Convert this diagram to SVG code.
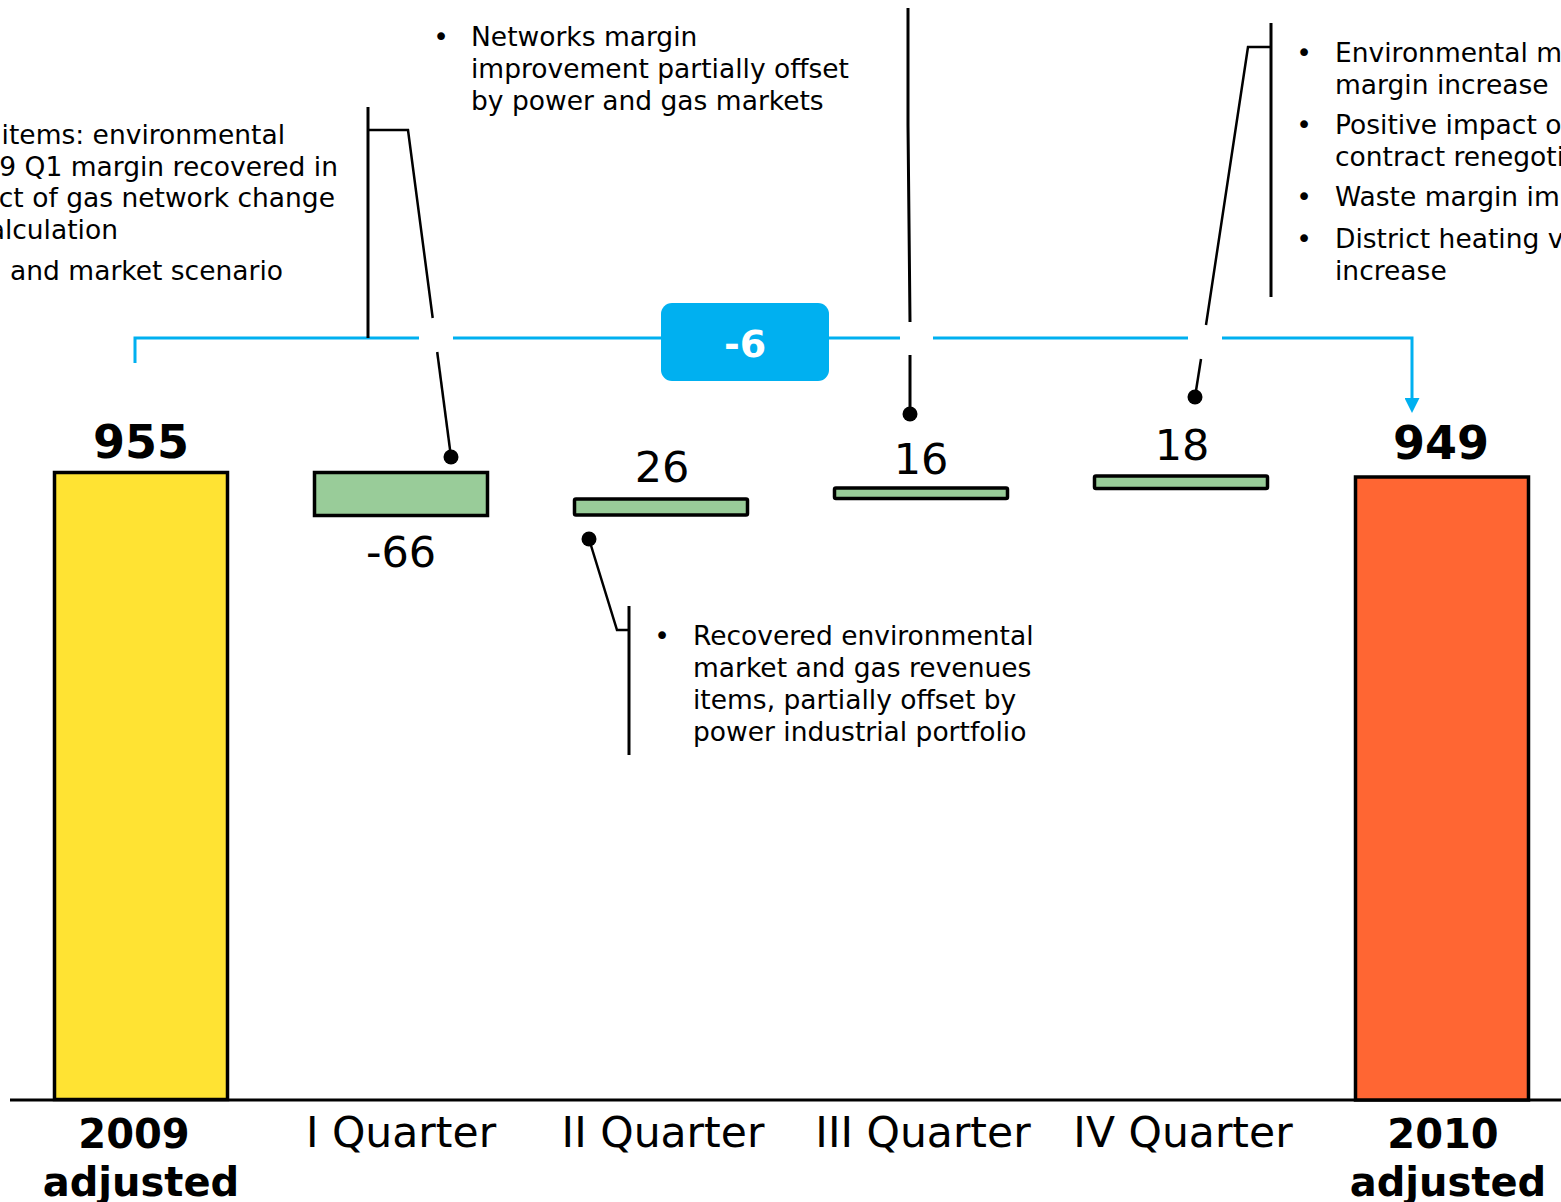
<svg xmlns="http://www.w3.org/2000/svg" width="1561" height="1202" viewBox="0 0 1561 1202">
<style>
  .t { font-family: "DejaVu Sans", Verdana, sans-serif; font-size: 26.5px; fill: #000; }
  .e { text-anchor: end; }
  .v { font-family: "DejaVu Sans", Verdana, sans-serif; font-size: 43px; fill: #000; text-anchor: middle; }
  .vb { font-family: "DejaVu Sans", Verdana, sans-serif; font-size: 46px; font-weight: bold; fill: #000; text-anchor: middle; }
  .q { font-family: "DejaVu Sans", Verdana, sans-serif; font-size: 42.5px; fill: #000; text-anchor: middle; }
  .qb { font-family: "DejaVu Sans", Verdana, sans-serif; font-size: 40px; font-weight: bold; fill: #000; text-anchor: middle; }
  .bar { stroke: #000; stroke-width: 3.5; }
  .green { fill: #99CC99; }
  .blk { fill: none; stroke: #000; stroke-width: 2.5; }
  .brk { fill: none; stroke: #000; stroke-width: 3; }
  .blue { fill: none; stroke: #00B0F0; stroke-width: 3; }
  .bul { text-anchor: middle; }
</style>
<defs>
  <marker id="arr" markerUnits="userSpaceOnUse" viewBox="0 0 15 15" markerWidth="15" markerHeight="15" refX="0" refY="7.5" orient="auto">
    <path d="M0,0 L15,7.5 L0,15 z" fill="#00B0F0"/>
  </marker>
</defs>
<rect x="0" y="0" width="1561" height="1202" fill="#fff"/>

<g id="axis">
  <line x1="10" y1="1100" x2="1561" y2="1100" stroke="#000" stroke-width="3"/>
</g>

<g id="bar-2009">
  <rect class="bar" x="54.5" y="472.5" width="173" height="627" fill="#FFE333"/>
  <text class="vb" x="141" y="458">955</text>
  <text class="qb" x="134" y="1148">2009</text>
  <text class="qb" x="141" y="1196">adjusted</text>
</g>
<g id="bar-q1">
  <rect class="bar green" x="314.5" y="472.5" width="173" height="43"/>
  <text class="v" x="401" y="567">-66</text>
  <text class="q" x="401" y="1147">I Quarter</text>
</g>
<g id="bar-q2">
  <rect class="bar green" x="574.5" y="499" width="173" height="16" rx="1.5"/>
  <text class="v" x="662" y="482">26</text>
  <text class="q" x="663" y="1147">II Quarter</text>
</g>
<g id="bar-q3">
  <rect class="bar green" x="834.5" y="488" width="173" height="10.5" rx="1.5"/>
  <text class="v" x="921" y="474">16</text>
  <text class="q" x="923" y="1147">III Quarter</text>
</g>
<g id="bar-q4">
  <rect class="bar green" x="1094.5" y="476" width="173" height="12.5" rx="1.5"/>
  <text class="v" x="1182" y="460">18</text>
  <text class="q" x="1183" y="1147">IV Quarter</text>
</g>
<g id="bar-2010">
  <rect class="bar" x="1355.5" y="477" width="173" height="623" fill="#FF6633"/>
  <text class="vb" x="1441" y="459">949</text>
  <text class="qb" x="1443" y="1148">2010</text>
  <text class="qb" x="1448" y="1196">adjusted</text>
</g>

<g id="connectors">
  <path class="blue" d="M135,363 V338 H419 M453,338 H900 M933,338 H1188"/>
  <path class="blue" d="M1222,338 H1412 V398" marker-end="url(#arr)"/>
  <!-- left callout -->
  <path class="brk" d="M368,107 V338"/>
  <path class="blk" d="M368,130 H408 L432.7,318"/>
  <path class="blk" d="M437.2,352 L451,457"/>
  <circle cx="451" cy="457" r="7.5" fill="#000"/>
  <!-- top middle callout -->
  <path class="brk" d="M908,8 V125 L910,322"/>
  <path class="brk" d="M910,355 V414"/>
  <circle cx="910" cy="414" r="7.5" fill="#000"/>
  <!-- right callout -->
  <path class="brk" d="M1271,23 V297"/>
  <path class="blk" d="M1271,47 H1248 L1206,325"/>
  <path class="blk" d="M1201,359 L1195,397"/>
  <circle cx="1195" cy="397" r="7.5" fill="#000"/>
  <!-- bottom callout -->
  <circle cx="589" cy="539" r="7.5" fill="#000"/>
  <path class="blk" d="M589,539 L617,630 H629"/>
  <path class="brk" d="M629,606 V755"/>
</g>

<g id="total-delta">
  <rect x="661" y="303" width="168" height="78" rx="11" fill="#00B0F0"/>
  <text x="745" y="357" font-family="DejaVu Sans, Verdana, sans-serif" font-size="38" font-weight="bold" fill="#fff" text-anchor="middle">-6</text>
</g>

<g id="note-q1">
  <text class="t e" x="285" y="144">items: environmental</text>
  <text class="t e" x="338" y="176">9 Q1 margin recovered in</text>
  <text class="t e" x="335" y="207">ct of gas network change</text>
  <text class="t e" x="118" y="239">alculation</text>
  <text class="t e" x="283" y="280">and market scenario</text>
</g>

<g id="note-q2">
  <text class="t bul" x="441" y="46">•</text>
  <text class="t" x="471" y="46">Networks margin</text>
  <text class="t" x="471" y="78">improvement partially offset</text>
  <text class="t" x="471" y="110">by power and gas markets</text>
</g>

<g id="note-q4">
  <text class="t bul" x="1304" y="62">•</text>
  <text class="t" x="1335" y="62">Environmental m</text>
  <text class="t" x="1335" y="94">margin increase</text>
  <text class="t bul" x="1304" y="134">•</text>
  <text class="t" x="1335" y="134">Positive impact o</text>
  <text class="t" x="1335" y="166">contract renegoti</text>
  <text class="t bul" x="1304" y="206">•</text>
  <text class="t" x="1335" y="206">Waste margin im</text>
  <text class="t bul" x="1304" y="248">•</text>
  <text class="t" x="1335" y="248">District heating v</text>
  <text class="t" x="1335" y="280">increase</text>
</g>

<g id="note-q3">
  <text class="t bul" x="662" y="645">•</text>
  <text class="t" x="693" y="645">Recovered environmental</text>
  <text class="t" x="693" y="677">market and gas revenues</text>
  <text class="t" x="693" y="709">items, partially offset by</text>
  <text class="t" x="693" y="741">power industrial portfolio</text>
</g>
</svg>
